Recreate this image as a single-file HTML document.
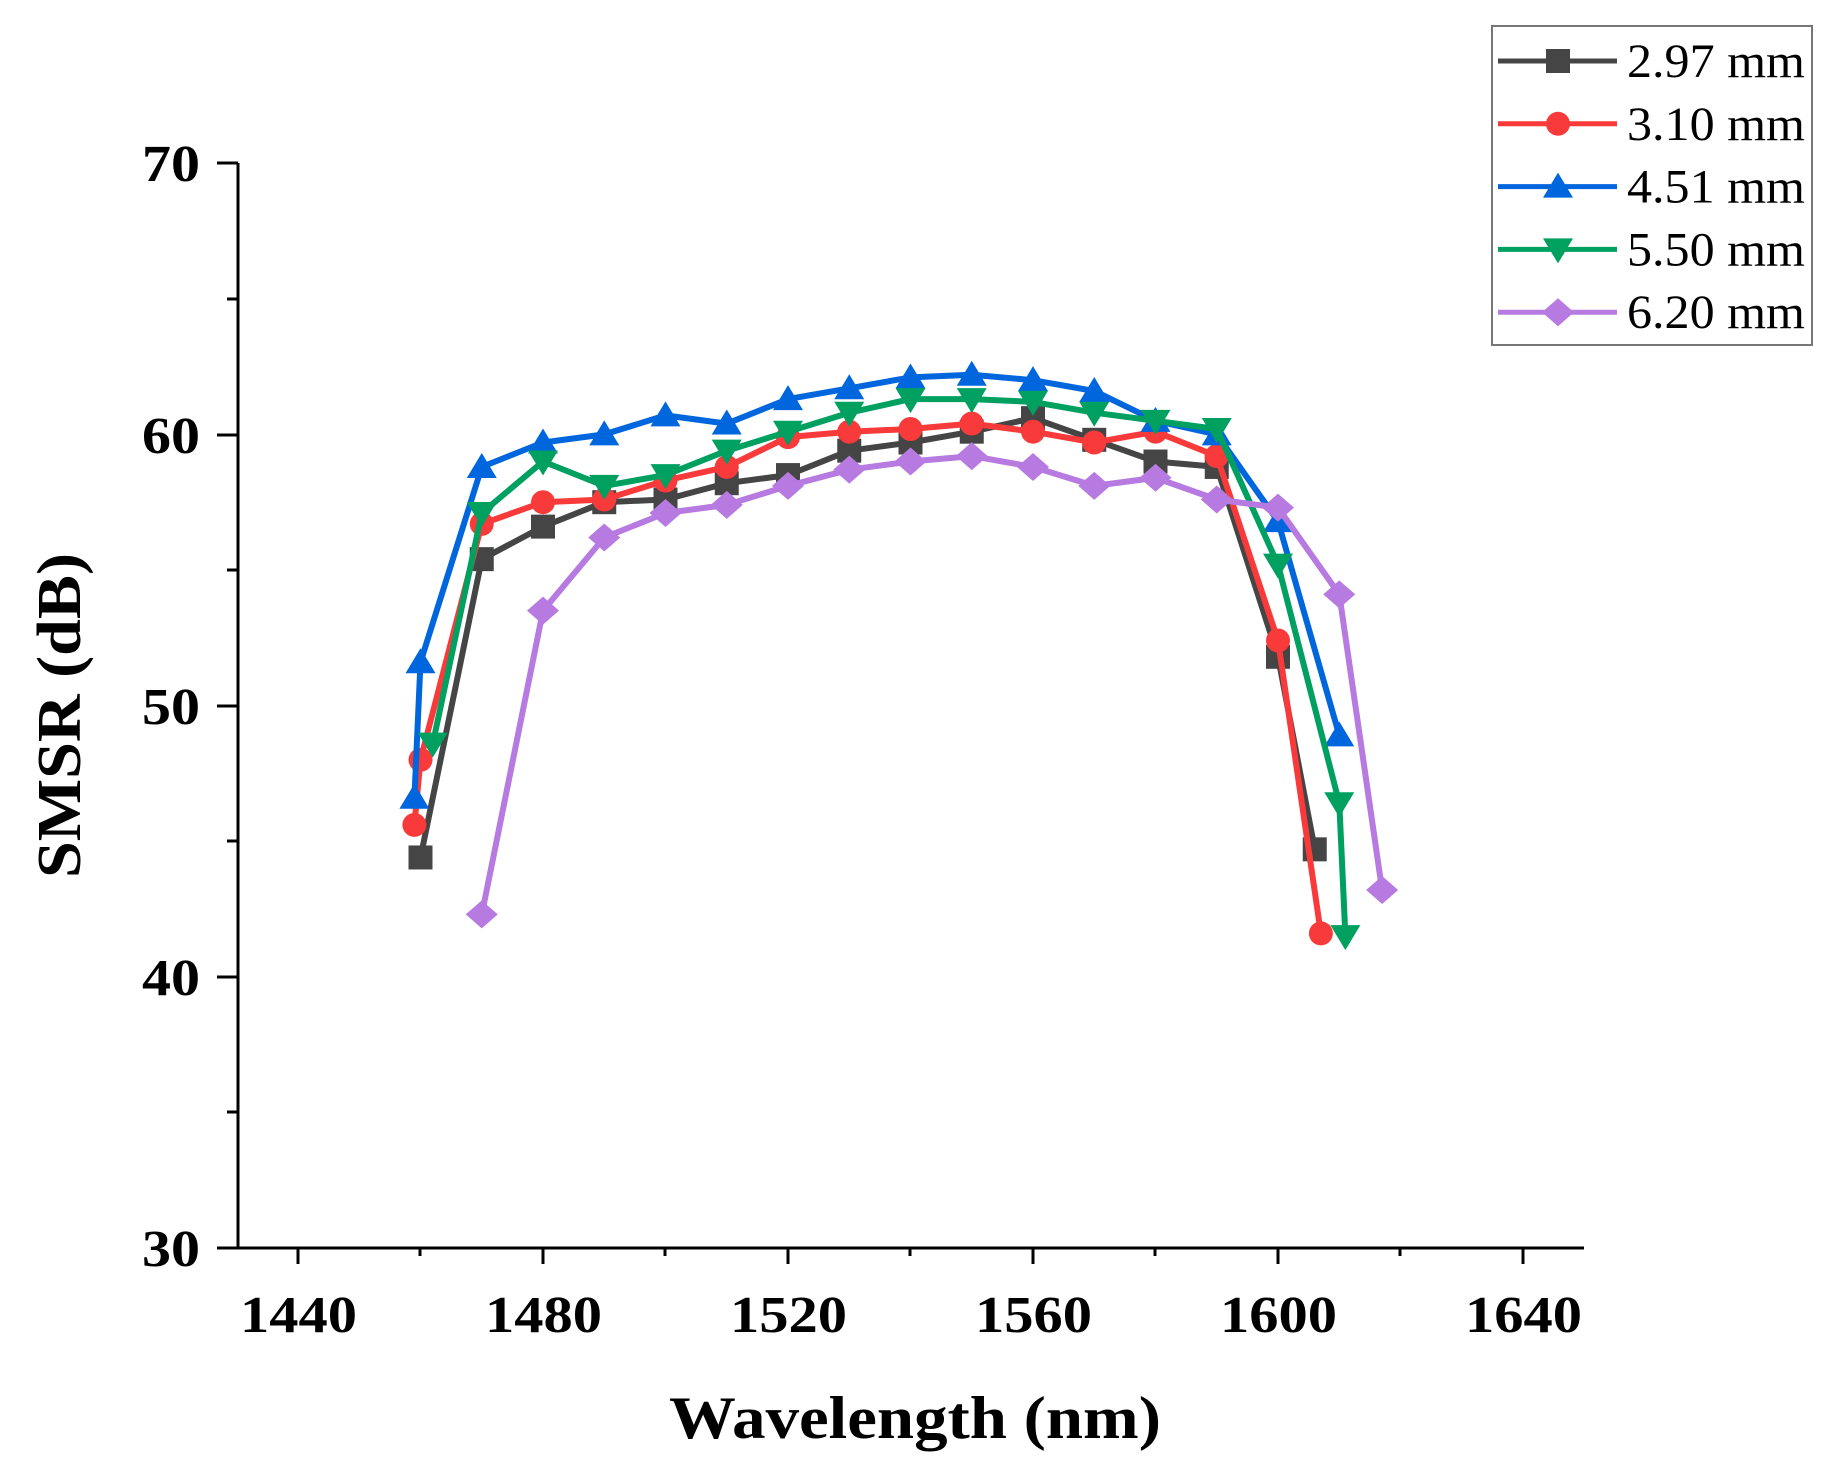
<!DOCTYPE html>
<html><head><meta charset="utf-8">
<style>
html,body{margin:0;padding:0;background:#fff;}
svg{display:block;}
text{font-family:"Liberation Serif",serif;}
</style></head>
<body>
<svg id="s" width="1840" height="1483" viewBox="0 0 1840 1483" xmlns="http://www.w3.org/2000/svg">
<rect width="1840" height="1483" fill="#fff"/>
<g stroke="#000" stroke-width="3" fill="none">
<line x1="238" y1="163" x2="238" y2="1249"/>
<line x1="237" y1="1248" x2="1584" y2="1248"/>
<line x1="217" y1="163" x2="238" y2="163"/>
<line x1="217" y1="435" x2="238" y2="435"/>
<line x1="217" y1="706" x2="238" y2="706"/>
<line x1="217" y1="977" x2="238" y2="977"/>
<line x1="217" y1="1248" x2="238" y2="1248"/>
<line x1="227" y1="299" x2="238" y2="299"/>
<line x1="227" y1="570" x2="238" y2="570"/>
<line x1="227" y1="841" x2="238" y2="841"/>
<line x1="227" y1="1112" x2="238" y2="1112"/>
<line x1="298" y1="1248" x2="298" y2="1264"/>
<line x1="543" y1="1248" x2="543" y2="1264"/>
<line x1="788" y1="1248" x2="788" y2="1264"/>
<line x1="1033" y1="1248" x2="1033" y2="1264"/>
<line x1="1278" y1="1248" x2="1278" y2="1264"/>
<line x1="1523" y1="1248" x2="1523" y2="1264"/>
<line x1="420" y1="1248" x2="420" y2="1256"/>
<line x1="665" y1="1248" x2="665" y2="1256"/>
<line x1="910" y1="1248" x2="910" y2="1256"/>
<line x1="1155" y1="1248" x2="1155" y2="1256"/>
<line x1="1400" y1="1248" x2="1400" y2="1256"/>
</g>
<g font-size="52" font-weight="bold" text-anchor="end" fill="#000">
<text x="200" y="181" textLength="58" lengthAdjust="spacingAndGlyphs">70</text>
<text x="200" y="453" textLength="58" lengthAdjust="spacingAndGlyphs">60</text>
<text x="200" y="724" textLength="58" lengthAdjust="spacingAndGlyphs">50</text>
<text x="200" y="995" textLength="58" lengthAdjust="spacingAndGlyphs">40</text>
<text x="200" y="1266" textLength="58" lengthAdjust="spacingAndGlyphs">30</text>
</g>
<g font-size="52" font-weight="bold" fill="#000">
<text x="240" y="1332" textLength="117" lengthAdjust="spacingAndGlyphs">1440</text>
<text x="485" y="1332" textLength="117" lengthAdjust="spacingAndGlyphs">1480</text>
<text x="730" y="1332" textLength="117" lengthAdjust="spacingAndGlyphs">1520</text>
<text x="975" y="1332" textLength="117" lengthAdjust="spacingAndGlyphs">1560</text>
<text x="1220" y="1332" textLength="117" lengthAdjust="spacingAndGlyphs">1600</text>
<text x="1465" y="1332" textLength="117" lengthAdjust="spacingAndGlyphs">1640</text>
</g>
<text x="669" y="1438" font-size="60" font-weight="bold" textLength="492" lengthAdjust="spacingAndGlyphs">Wavelength (nm)</text>
<text transform="translate(80,878) rotate(-90)" font-size="62" font-weight="bold" textLength="325" lengthAdjust="spacingAndGlyphs">SMSR (dB)</text>
<g id="series"></g>
<rect x="1492" y="26" width="320" height="319" fill="#fff" stroke="#777" stroke-width="2"/>
<g id="legend"></g>
</svg>
<script>
var X=function(l){return 298+(l-1440)*6.125;};
var Y=function(v){return 1248-(v-30)*27.12;};
var S=[
{c:"#454545",m:"sq",n:"2.97 mm",d:[[1460,44.4],[1470,55.4],[1480,56.6],[1490,57.5],[1500,57.6],[1510,58.2],[1520,58.5],[1530,59.4],[1540,59.7],[1550,60.1],[1560,60.6],[1570,59.8],[1580,59.0],[1590,58.8],[1600,51.8],[1606,44.7]]},
{c:"#f93a3a",m:"ci",n:"3.10 mm",d:[[1459,45.6],[1460,48],[1470,56.7],[1480,57.5],[1490,57.6],[1500,58.3],[1510,58.8],[1520,59.9],[1530,60.1],[1540,60.2],[1550,60.4],[1560,60.1],[1570,59.7],[1580,60.1],[1590,59.2],[1600,52.4],[1607,41.6]]},
{c:"#0066dd",m:"tu",n:"4.51 mm",d:[[1459,46.6],[1460,51.6],[1470,58.8],[1480,59.7],[1490,60.0],[1500,60.7],[1510,60.4],[1520,61.3],[1530,61.7],[1540,62.1],[1550,62.2],[1560,62.0],[1570,61.6],[1580,60.5],[1590,60.0],[1600,56.8],[1610,48.9]]},
{c:"#00a060",m:"td",n:"5.50 mm",d:[[1462,48.6],[1470,57.1],[1480,59.0],[1490,58.1],[1500,58.5],[1510,59.4],[1520,60.1],[1530,60.8],[1540,61.3],[1550,61.3],[1560,61.2],[1570,60.8],[1580,60.5],[1590,60.2],[1600,55.2],[1610,46.4],[1611,41.5]]},
{c:"#b67ae0",m:"di",n:"6.20 mm",d:[[1470,42.3],[1480,53.5],[1490,56.2],[1500,57.1],[1510,57.4],[1520,58.1],[1530,58.7],[1540,59.0],[1550,59.2],[1560,58.8],[1570,58.1],[1580,58.4],[1590,57.6],[1600,57.3],[1610,54.1],[1617,43.2]]}
];
function mk(m,x,y,c){
 var r=12;
 if(m=="sq")return '<rect x="'+(x-r)+'" y="'+(y-r)+'" width="'+2*r+'" height="'+2*r+'" fill="'+c+'"/>';
 if(m=="ci")return '<circle cx="'+x+'" cy="'+y+'" r="'+r+'" fill="'+c+'"/>';
 if(m=="tu")return '<polygon points="'+x+','+(y-14)+' '+(x+15)+','+(y+11)+' '+(x-15)+','+(y+11)+'" fill="'+c+'"/>';
 if(m=="td")return '<polygon points="'+x+','+(y+14)+' '+(x+15)+','+(y-11)+' '+(x-15)+','+(y-11)+'" fill="'+c+'"/>';
 return '<polygon points="'+x+','+(y-14)+' '+(x+16)+','+y+' '+x+','+(y+14)+' '+(x-16)+','+y+'" fill="'+c+'"/>';
}
var h='';
S.forEach(function(s){
 var p=s.d.map(function(q){return X(q[0]).toFixed(1)+','+Y(q[1]).toFixed(1);}).join(' ');
 h+='<polyline points="'+p+'" fill="none" stroke="'+s.c+'" stroke-width="6" stroke-linejoin="round"/>';
 s.d.forEach(function(q){h+=mk(s.m,X(q[0]),Y(q[1]),s.c);});
});
document.getElementById('series').innerHTML=h;
var l='';
S.forEach(function(s,i){
 var y=61+i*62.8;
 l+='<line x1="1498" y1="'+y+'" x2="1617" y2="'+y+'" stroke="'+s.c+'" stroke-width="5"/>';
 l+=mk(s.m,1558,y,s.c);
 l+='<text x="1627" y="'+(y+16)+'" font-size="48" fill="#000" textLength="178" lengthAdjust="spacingAndGlyphs">'+s.n+'</text>';
});
document.getElementById('legend').innerHTML=l;
</script>
</body></html>
